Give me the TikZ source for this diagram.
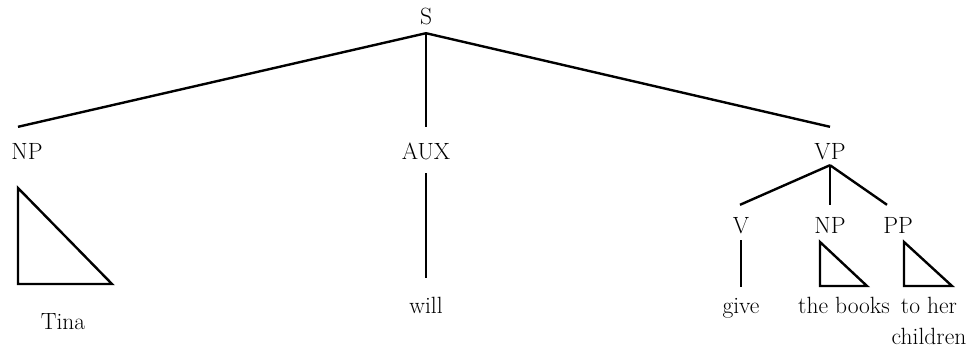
\documentclass[tikz,border=0pt]{standalone}
\usetikzlibrary{positioning}

\begin{document}
\begin{tikzpicture}[on grid,
                    lbl/.style={inner sep=0pt,text height=16pt,text depth=5pt,font=\fontsize{23.5}{32}\selectfont},
                    edge/.style={line width=2.4pt}]
    \useasboundingbox (0,0) rectangle (977pt,-349pt);
    \node[lbl,anchor=base] (S) at (426pt,-24pt) {S};
    \node[lbl] (NPa) [below left=135pt and 399pt of S] {NP};
    \node[lbl] (AUX) [below=135pt of S] {AUX};
    \node[lbl] (VP) [below right=135pt and 404pt of S] {VP};
    \node[lbl] (V) [below left=74pt and 89pt of VP] {V};
    \node[lbl] (NPb) [below=74pt of VP] {NP};
    \node[lbl] (PP) [below right=74pt and 68pt of VP] {PP};
    \node[lbl] (Tina) [below right=170pt and 36pt of NPa] {Tina};
    \node[lbl] (will) [below=154pt of AUX] {will};
    \node[lbl] (give) [below=80pt of V] {give};
    \node[lbl] (books) [below right=80pt and 14pt of NPb] {the books};
    \node[inner sep=0pt,align=center,font=\fontsize{23.5}{31}\selectfont] (toher)
        [below right=69.5pt and 31pt of PP,anchor=north] {to her\\children};
    % branches
    \draw[edge] ([yshift=-4pt]S.south) -- ([shift={(-9pt,16pt)}]NPa.north);
    \draw[edge] ([yshift=-4pt]S.south) -- ([yshift=16pt]AUX.north);
    \draw[edge] ([yshift=-4pt]S.south) -- ([yshift=16pt]VP.north);
    \draw[edge] ([yshift=-9pt]AUX.south) -- ([yshift=19pt]will.north);
    \draw[edge] ([yshift=-1pt]VP.south) -- ([shift={(-1pt,12pt)}]V.north);
    \draw[edge] ([yshift=-1pt]VP.south) -- ([yshift=12pt]NPb.north);
    \draw[edge] ([yshift=-1pt]VP.south) -- ([shift={(-11pt,12pt)}]PP.north);
    \draw[edge] ([yshift=-2pt]V.south) -- ([yshift=10pt]give.north);
    % triangles
    \draw[edge] ([shift={(-9pt,-29pt)}]NPa.base) -- ++(0,-96pt) -- ++(94pt,0) -- cycle;
    \draw[edge] ([shift={(-10pt,-9pt)}]NPb.base) -- ++(0,-44pt) -- ++(47pt,0) -- cycle;
    \draw[edge] ([shift={(6pt,-9pt)}]PP.base) -- ++(0,-44pt) -- ++(48pt,0) -- cycle;
\end{tikzpicture}
\end{document}
